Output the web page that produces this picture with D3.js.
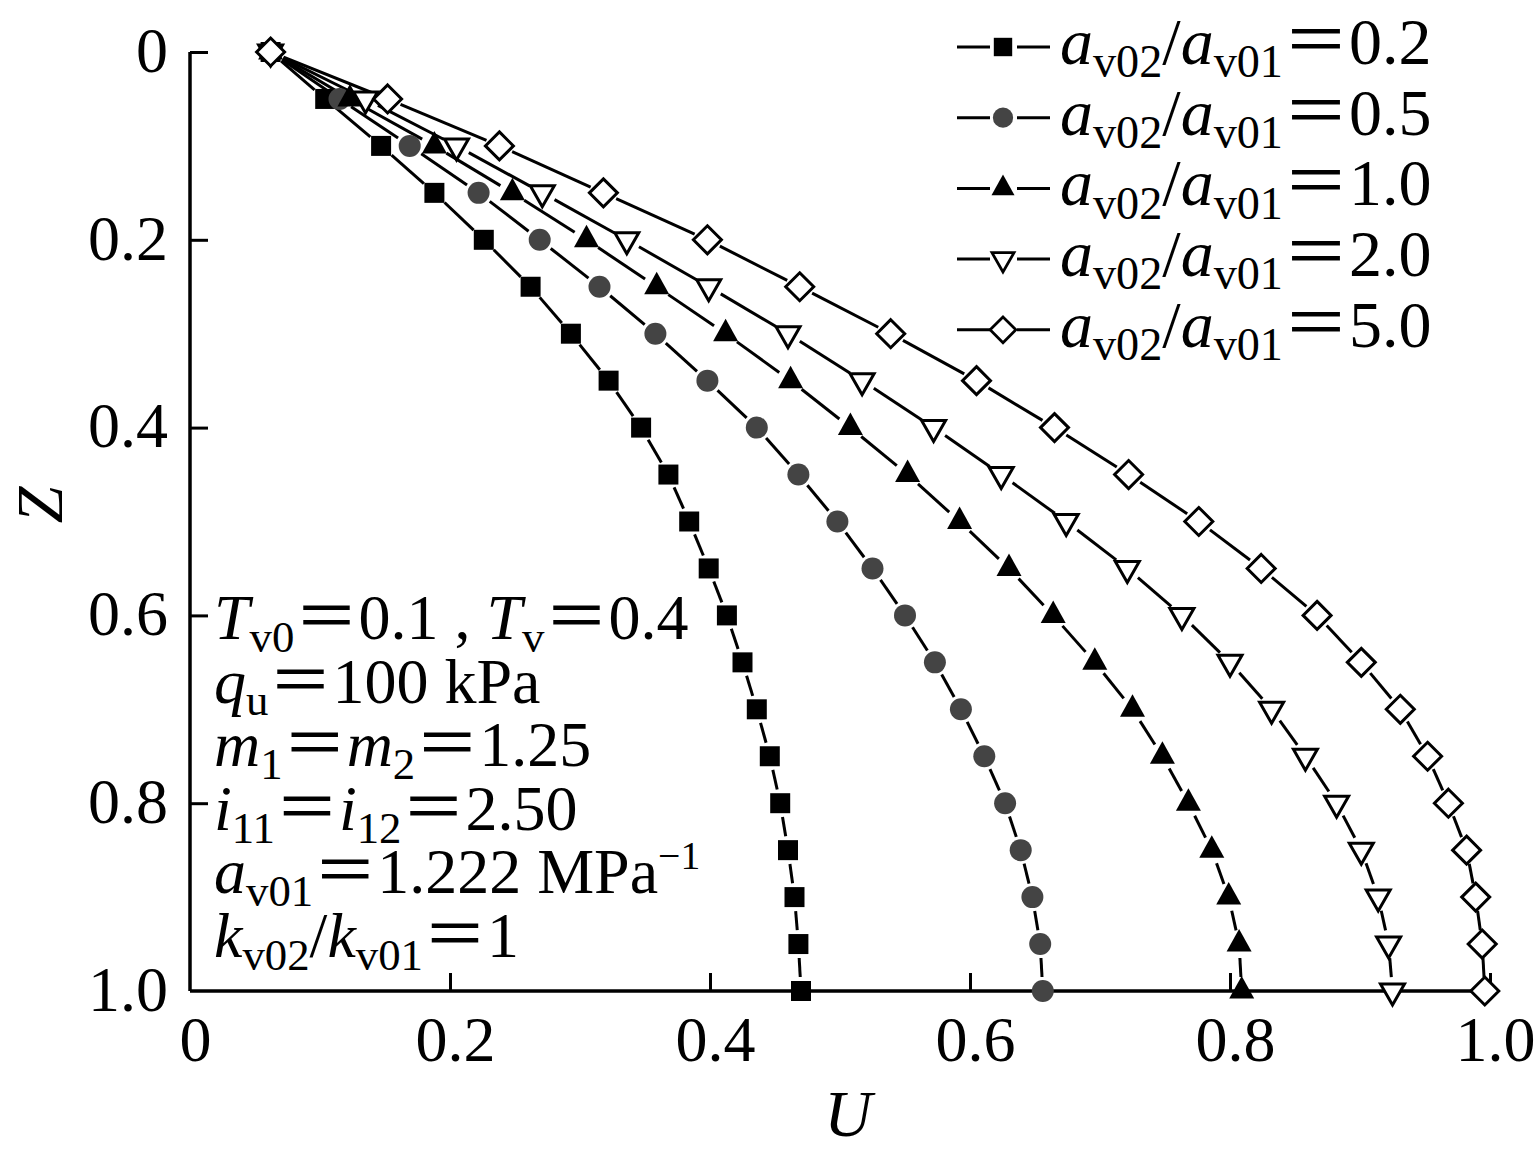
<!DOCTYPE html>
<html>
<head>
<meta charset="utf-8">
<title>U-Z</title>
<style>
  body { margin: 0; background: #fff; }
  svg text { font-family: "Liberation Serif", "DejaVu Serif", serif; fill: #000; }
</style>
</head>
<body>
<main></main>
<script src="https://cdn.jsdelivr.net/npm/d3@7/dist/d3.min.js"></script>
<script>
// depth Z
var zValues = [0, 0.05, 0.1, 0.15, 0.2, 0.25, 0.3, 0.35, 0.4, 0.45, 0.5,
               0.55, 0.6, 0.65, 0.7, 0.75, 0.8, 0.85, 0.9, 0.95, 1.0];
// U for each a_v02/a_v01
var u02 = [0.062, 0.104, 0.147, 0.188, 0.226, 0.262, 0.293, 0.322, 0.347, 0.368, 0.384,
           0.399, 0.413, 0.425, 0.436, 0.446, 0.454, 0.460, 0.465, 0.468, 0.470];
var u05 = [0.062, 0.115, 0.169, 0.222, 0.269, 0.315, 0.358, 0.398, 0.436, 0.468, 0.498,
           0.525, 0.550, 0.573, 0.593, 0.611, 0.627, 0.639, 0.648, 0.654, 0.656];
var u10 = [0.062, 0.123, 0.188, 0.248, 0.305, 0.359, 0.412, 0.462, 0.508, 0.552, 0.592,
           0.630, 0.664, 0.696, 0.725, 0.748, 0.768, 0.786, 0.799, 0.807, 0.809];
var u20 = [0.062, 0.135, 0.205, 0.271, 0.336, 0.399, 0.460, 0.517, 0.572, 0.624, 0.674,
           0.721, 0.763, 0.800, 0.832, 0.858, 0.882, 0.901, 0.914, 0.922, 0.925];
var u50 = [0.062, 0.152, 0.238, 0.318, 0.398, 0.469, 0.539, 0.605, 0.665, 0.722, 0.776,
           0.824, 0.867, 0.901, 0.931, 0.952, 0.968, 0.982, 0.989, 0.994, 0.996];
var ratioLabels = ["0.2", "0.5", "1.0", "2.0", "5.0"];
var markerTypes = ["square", "circle", "triUp", "triDown", "diamond"];
var xTicks = [0, 0.2, 0.4, 0.6, 0.8, 1.0];
var xTickLabels = ["0", "0.2", "0.4", "0.6", "0.8", "1.0"];
var yTicks = [0, 0.2, 0.4, 0.6, 0.8, 1.0];
var yTickLabels = ["0", "0.2", "0.4", "0.6", "0.8", "1.0"];

var seriesU = [u02, u05, u10, u20, u50];

var width = 1540, height = 1153;
var svg = d3.select("main").append("svg")
    .attr("width", width).attr("height", height);

var x = d3.scaleLinear().domain([0, 1]).range([190, 1490]);
var y = d3.scaleLinear().domain([0, 1]).range([52, 991]);

// marker shape paths
function markerPath(type) {
    if (type === "square") return "M-10,-10H10V10H-10Z";
    if (type === "circle") return d3.arc()({innerRadius: 0, outerRadius: 11, startAngle: 0, endAngle: 2 * Math.PI});
    if (type === "triUp") return "M0,-15L12.5,7.5L-12.5,7.5Z";
    if (type === "triDown") return "M0,14L-12,-7L12,-7Z";
    return "M0,-14L14,0L0,14L-14,0Z";
}
function markerStyle(sel, type) {
    if (type === "square" || type === "triUp") sel.attr("fill", "#000").attr("stroke", "none");
    else if (type === "circle") sel.attr("fill", "#444").attr("stroke", "none");
    else sel.attr("fill", "#fff").attr("stroke", "#000").attr("stroke-width", 3).attr("stroke-linejoin", "miter");
}

// axes
var gx = svg.append("g").attr("transform", "translate(0," + y(1) + ")")
    .call(d3.axisBottom(x).tickValues(xTicks).tickSize(-18).tickFormat(function (d, i) { return xTickLabels[i]; }));
gx.select(".domain").attr("d", "M" + x(0) + ",0H" + (x(1) + 3)).attr("stroke-width", 3.5);
gx.selectAll(".tick line").attr("stroke-width", 3).filter(function (d) { return d === 0; }).remove();
gx.selectAll(".tick text").attr("font-size", 64).attr("font-family", "Liberation Serif")
    .attr("y", 0).attr("dy", 70).attr("dx", 5);

var gy = svg.append("g").attr("transform", "translate(" + x(0) + ",0)")
    .call(d3.axisLeft(y).tickValues(yTicks).tickSize(-18).tickFormat(function (d, i) { return yTickLabels[i]; }));
gy.select(".domain").attr("d", "M0," + y(0) + "V" + y(1)).attr("stroke-width", 3.5);
gy.selectAll(".tick line").attr("stroke-width", 3).filter(function (d) { return d === 1; }).remove();
gy.selectAll(".tick text").attr("font-size", 64).attr("font-family", "Liberation Serif")
    .attr("x", -22).attr("dy", "0.3em");

// series lines with gaps around markers
var gap = 14;
seriesU.forEach(function (us, si) {
    var pts = us.map(function (u, i) { return [x(u), y(zValues[i])]; });
    var segs = [];
    for (var i = 0; i < pts.length - 1; i++) {
        var dx = pts[i + 1][0] - pts[i][0], dy = pts[i + 1][1] - pts[i][1];
        var len = Math.sqrt(dx * dx + dy * dy);
        if (len <= 2 * gap) continue;
        var ux = dx / len, uy = dy / len;
        segs.push([pts[i][0] + ux * gap, pts[i][1] + uy * gap,
                   pts[i + 1][0] - ux * gap, pts[i + 1][1] - uy * gap]);
    }
    svg.append("g").selectAll("line").data(segs).enter().append("line")
        .attr("x1", function (d) { return d[0]; }).attr("y1", function (d) { return d[1]; })
        .attr("x2", function (d) { return d[2]; }).attr("y2", function (d) { return d[3]; })
        .attr("stroke", "#000").attr("stroke-width", 3);
});
seriesU.forEach(function (us, si) {
    var type = markerTypes[si];
    svg.append("g").selectAll("path").data(us).enter().append("path")
        .attr("d", markerPath(type))
        .attr("transform", function (u, i) { return "translate(" + x(u) + "," + y(zValues[i]) + ")"; })
        .call(markerStyle, type);
});

// rich text: parts of {t, it, sub, sup, eq}
function rich(parent, x0, y0, size, parts) {
    var t = parent.append("text").attr("x", x0).attr("y", y0).attr("font-size", size);
    var shift = 0;
    parts.forEach(function (p) {
        var target = 0, fs = size;
        if (p.sub) { target = size * 0.2; fs = size * 0.7; }
        if (p.sup) { target = -size * 0.38; fs = size * 0.62; }
        var ts = t.append("tspan").text(p.t).attr("font-size", fs).attr("dy", target - shift);
        shift = target;
        if (p.it) ts.attr("font-style", "italic");
        if (p.eq) ts.attr("font-family", "Noto Sans CJK SC");
        if (p.dx) ts.attr("dx", p.dx);
    });
    return t;
}
var EQ = {t: "\uFF1D", eq: true};

// legend
var legend = svg.append("g");
ratioLabels.forEach(function (lab, i) {
    var cy = 47 + i * 70.7;
    var type = markerTypes[i];
    legend.append("line").attr("x1", 957).attr("x2", 990).attr("y1", cy).attr("y2", cy)
        .attr("stroke", "#000").attr("stroke-width", 3);
    legend.append("line").attr("x1", 1017).attr("x2", 1050).attr("y1", cy).attr("y2", cy)
        .attr("stroke", "#000").attr("stroke-width", 3);
    legend.append("path").attr("d", markerPath(type))
        .attr("transform", "translate(1003," + cy + ") scale(0.92)").call(markerStyle, type);
    rich(legend, 1060, cy + 17, 66, [
        {t: "a", it: true}, {t: "v02", sub: true}, {t: "/"},
        {t: "a", it: true}, {t: "v01", sub: true}, EQ, {t: lab}
    ]);
});

// parameter block
var note = svg.append("g");
var ny = 639, nstep = 63.6, nx = 214, nfs = 64;
rich(note, nx, ny, nfs, [{t: "T", it: true}, {t: "v0", sub: true}, EQ, {t: "0.1 , "},
    {t: "T", it: true}, {t: "v", sub: true}, EQ, {t: "0.4"}]);
rich(note, nx, ny + nstep, nfs, [{t: "q", it: true}, {t: "u", sub: true}, EQ, {t: "100 kPa"}]);
rich(note, nx, ny + 2 * nstep, nfs, [{t: "m", it: true}, {t: "1", sub: true}, EQ,
    {t: "m", it: true}, {t: "2", sub: true}, EQ, {t: "1.25"}]);
rich(note, nx, ny + 3 * nstep, nfs, [{t: "i", it: true}, {t: "11", sub: true}, EQ,
    {t: "i", it: true}, {t: "12", sub: true}, EQ, {t: "2.50"}]);
rich(note, nx, ny + 4 * nstep, nfs, [{t: "a", it: true}, {t: "v01", sub: true}, EQ,
    {t: "1.222 MPa"}, {t: "\u22121", sup: true}]);
rich(note, nx, ny + 5 * nstep, nfs, [{t: "k", it: true}, {t: "v02", sub: true}, {t: "/"},
    {t: "k", it: true}, {t: "v01", sub: true}, EQ, {t: "1"}]);

// axis titles
svg.append("text").attr("x", 848).attr("y", 1136).attr("text-anchor", "middle")
    .attr("font-size", 66).attr("font-style", "italic").text("U");
svg.append("text").attr("transform", "translate(62,505) rotate(-90)").attr("text-anchor", "middle")
    .attr("font-size", 66).attr("font-style", "italic").text("Z");
</script>
</body>
</html>
